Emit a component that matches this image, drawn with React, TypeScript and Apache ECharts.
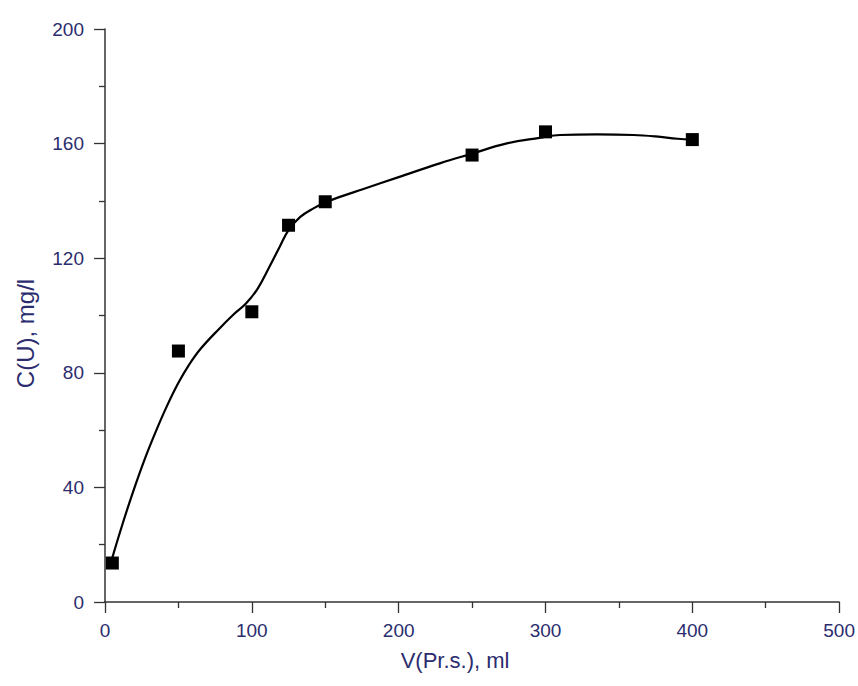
import React, { useEffect, useRef } from "react";
import * as echarts from "echarts";

// Measured points
const pointX = [5, 50, 100, 125, 150, 250, 300, 400];
const pointY = [13.6, 87.6, 101.3, 131.5, 139.7, 156, 164.1, 161.4];

// Smoothed fit curve
const curveX = [5, 12, 19, 27, 35, 42, 50, 57, 65, 78, 87, 96, 104, 112, 119, 125, 133, 142, 151, 160, 175, 200, 228, 250, 273, 296, 310, 335, 360, 375, 390, 400];
const curveY = [15.5, 27.3, 38.3, 49.8, 60, 68.2, 76.5, 82.6, 88.3, 95.5, 100.1, 104.2, 109.4, 117, 124, 129.8, 134.4, 137.4, 139.7, 141.4, 144, 148.3, 153.1, 156.5, 160, 162, 163, 163.2, 163, 162.5, 161.7, 161.4];

const xTitle = "V(Pr.s.), ml";
const yTitle = "C(U), mg/l";

const FONT = "'Liberation Sans', Arial, sans-serif";
const LABEL_COLOR = "#2b2d6e";
const AXIS_COLOR = "#333333";

export default function App() {
  const ref = useRef<HTMLDivElement>(null);

  useEffect(() => {
    if (!ref.current) return;
    const chart = echarts.init(ref.current, undefined, { renderer: "svg" });
    const axisCommon = {
      type: "value" as const,
      axisLine: { show: true, onZero: false, lineStyle: { color: AXIS_COLOR, width: 1.5 } },
      axisTick: { show: true, inside: false, length: 11, lineStyle: { color: AXIS_COLOR, width: 1.3 } },
      minorTick: { show: true, splitNumber: 2, length: 6, lineStyle: { color: AXIS_COLOR, width: 1.3 } },
      splitLine: { show: false },
      minorSplitLine: { show: false },
      nameLocation: "middle" as const,
    };
    chart.setOption({
      animation: false,
      backgroundColor: "#ffffff",
      grid: { left: 105, right: 18, top: 29, bottom: 84, containLabel: false },
      xAxis: {
        ...axisCommon,
        min: 0,
        max: 500,
        interval: 100,
        name: xTitle,
        nameGap: 47,
        nameTextStyle: { fontFamily: FONT, fontSize: 22, color: LABEL_COLOR, padding: [0, 34, 0, 0] },
        axisLabel: { margin: 19, fontFamily: FONT, fontSize: 19, color: LABEL_COLOR },
      },
      yAxis: {
        ...axisCommon,
        min: 0,
        max: 200,
        interval: 40,
        name: yTitle,
        nameGap: 68,
        nameTextStyle: { fontFamily: FONT, fontSize: 24, color: LABEL_COLOR, padding: [0, 36, 0, 0] },
        axisLabel: { margin: 21, fontFamily: FONT, fontSize: 19, color: LABEL_COLOR },
      },
      series: [
        {
          type: "line",
          data: curveX.map((x, i) => [x, curveY[i]]),
          smooth: 0.4,
          showSymbol: false,
          lineStyle: { color: "#000000", width: 2.2 },
          z: 2,
        },
        {
          type: "scatter",
          data: pointX.map((x, i) => [x, pointY[i]]),
          symbol: "rect",
          symbolSize: 13,
          itemStyle: { color: "#000000", opacity: 1 },
          z: 3,
        },
      ],
    });
    return () => chart.dispose();
  }, []);

  return (
    <div
      ref={ref}
      style={{ position: "fixed", left: 0, top: 0, width: 858, height: 686, background: "#fff" }}
    />
  );
}
